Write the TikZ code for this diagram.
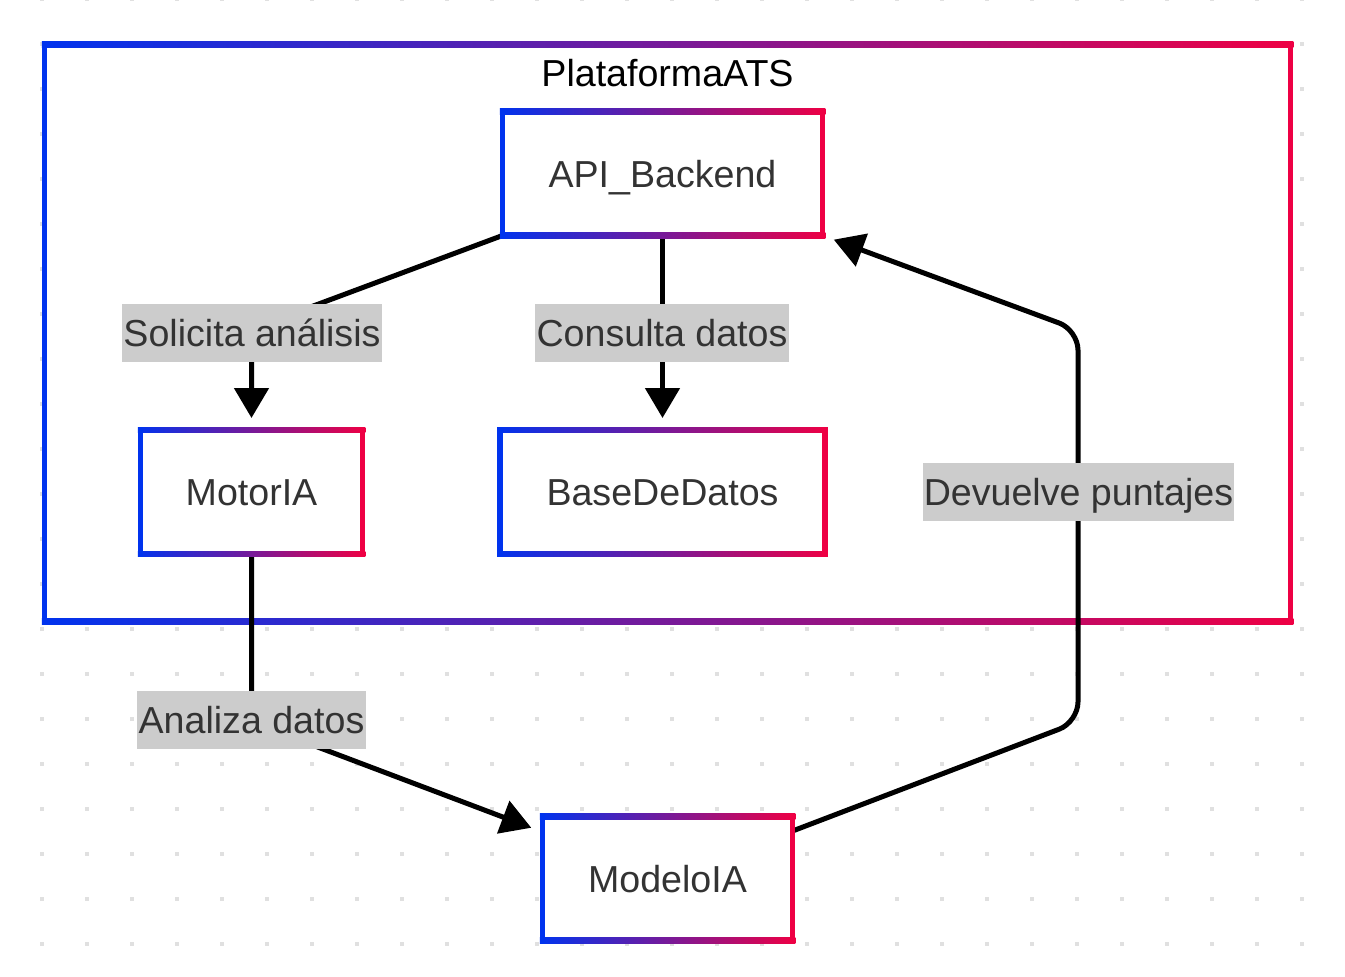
\documentclass[tikz,border=0pt]{standalone}
\usepackage{fontspec}
\setmainfont{Liberation Sans}
\usetikzlibrary{arrows.meta,calc}
\definecolor{gL}{HTML}{0033EE}
\definecolor{gR}{HTML}{EE0044}
\definecolor{txt}{HTML}{333333}
\definecolor{lblbg}{HTML}{CCCCCC}
\definecolor{dotc}{HTML}{E0E0E0}
\newcommand\gradborder[1]{%
  \shade[left color=gL,right color=gR] ([shift={(-2.75,-2.75)}]#1.north west) rectangle ([shift={(2.75,2.75)}]#1.north east);
  \shade[left color=gL,right color=gR] ([shift={(-2.75,-2.75)}]#1.south west) rectangle ([shift={(2.75,2.75)}]#1.south east);
  \fill[gL] ([shift={(-2.75,-2.75)}]#1.north west) rectangle ([shift={(2.75,2.75)}]#1.south west);
  \fill[gR] ([shift={(-2.75,-2.75)}]#1.north east) rectangle ([shift={(2.75,2.75)}]#1.south east);
}
\tikzset{
  bigfont/.style={font=\fontsize{37.6}{44}\selectfont},
  boxnode/.style={bigfont, fill=white, draw=none, inner sep=0pt, outer sep=0pt,
    text=txt, text height=27pt, text depth=0pt, align=center},
  lbl/.style={bigfont, fill=lblbg, text=txt, inner xsep=1.2pt, inner ysep=0pt,
    minimum height=58pt, text height=27pt, text depth=0pt},
  edge/.style={line width=5pt, black, rounded corners=20pt, shorten >=12pt,
    -{Triangle[length=30pt,width=34pt]}},
}
\begin{document}
\begin{tikzpicture}[x=1pt,y=-1pt]
\useasboundingbox (0,0) rectangle (1345,977);
\fill[white] (0,0) rectangle (1345,977);
% dotted background
\foreach \i in {0,...,28} {
  \foreach \j in {0,...,21} {
    \fill[dotc] ({40+45*\i},{-3+45*\j}) rectangle ++(4,4);
  }
}
% cluster
\node[fill=white, inner sep=0pt, outer sep=0pt, minimum width=1246pt, minimum height=577pt] (plat) at (667.5,333) {};
\gradborder{plat}
\node[bigfont, text=black, text height=27pt, text depth=0pt, inner sep=0pt] (plattitle) at (667.5,73) {PlataformaATS};
% nodes (positions)
\node[boxnode, minimum width=320pt, minimum height=124pt] (api) at (662.5,173.5) {API\_Backend};
\node[boxnode, minimum width=222pt, minimum height=124pt] (motor) at (251.5,492) {MotorIA};
\node[boxnode, minimum width=325pt, minimum height=124pt] (base) at (662.5,492) {BaseDeDatos};
\node[boxnode, minimum width=250pt, minimum height=124pt] (modelo) at (667.5,878.5) {ModeloIA};
% edges
\coordinate (c1) at (251.5,329);
\coordinate (c3) at (251.5,722);
\coordinate (c4a) at (1078,722);
\coordinate (c4b) at (1078,330);
\draw[edge] (api.south west) -- (c1) -- (motor.north);
\draw[edge] (api.south) -- (base.north);
\draw[edge] (motor.south) -- (c3) -- ([yshift=-15.5pt]modelo.north west);
\draw[edge] ([yshift=-14.5pt]modelo.north east) -- (c4a) -- (c4b) -- (api.south east);
% borders of nodes
\gradborder{api}
\gradborder{motor}
\gradborder{base}
\gradborder{modelo}
% edge labels
\node[lbl] (l1) at (252,333) {Solicita análisis};
\node[lbl] (l2) at (662,333) {Consulta datos};
\node[lbl] (l3) at (1078.5,492) {Devuelve puntajes};
\node[lbl] (l4) at (251.5,720) {Analiza datos};
\end{tikzpicture}
\end{document}
